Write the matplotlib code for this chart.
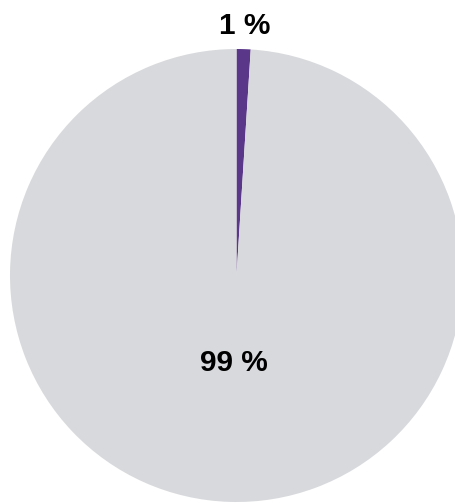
import numpy as np
import matplotlib
matplotlib.use("Agg")
import matplotlib.pyplot as plt

categories = ["Share A", "Share B"]
values = [1, 99]
labels = ["1 %", "99 %"]
colors = ["#5b3789", "#d8d9dc"]

W, H = 456, 503
fig = plt.figure(figsize=(W / 100, H / 100), dpi=100)
cx, cy, r = 236.5, 275.5, 226.5
ax = fig.add_axes([(cx - r) / W, (H - cy - r) / H, 2 * r / W, 2 * r / H])

wedges, _ = ax.pie(values, colors=colors, startangle=90, counterclock=False,
                   radius=1, wedgeprops=dict(linewidth=0))
for w in wedges:
    w.set_clip_on(False)
ax.set_xlim(-1, 1)
ax.set_ylim(-1, 1)
ax.set_aspect("equal")
ax.axis("off")

dists = [1.117, 0.375]
for w, lab, d in zip(wedges, labels, dists):
    mid = np.deg2rad((w.theta1 + w.theta2) / 2)
    ax.text(d * np.cos(mid), d * np.sin(mid), lab, ha="center", va="center_baseline",
            fontsize=21.5, fontweight="bold", family=["Liberation Sans", "DejaVu Sans"],
            color="#000000", clip_on=False)

fig.savefig("out.png", dpi=100)
